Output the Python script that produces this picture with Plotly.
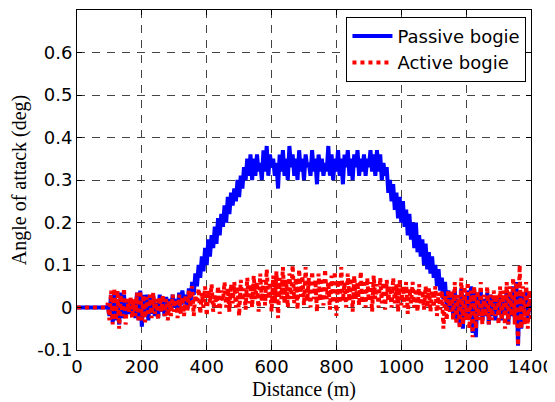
import plotly.graph_objects as go

STEP_M = 5
X_TICKS = [0, 200, 400, 600, 800, 1000, 1200, 1400]
Y_TICKS = [-0.1, 0.0, 0.1, 0.2, 0.3, 0.4, 0.5, 0.6]
Y_TICK_LABELS = ["-0.1", "0", "0.1", "0.2", "0.3", "0.4", "0.5", "0.6"]

passive_bogie = (
    [0.0] * 19
    + [0.005, -0.02, 0.03, -0.035, 0.035, -0.03, 0.02, -0.04, 0.035, -0.025,
       0.03, -0.02, 0.015, -0.015, 0.02, -0.02, 0.01, -0.025, 0.035, -0.03,
       0.04, -0.045, 0.03, -0.02, 0.03, -0.03, 0.025, -0.015, 0.03, -0.02,
       0.01, -0.025, 0.03, -0.01, 0.02, -0.02, 0.025, -0.01, 0.02, -0.005,
       0.03, 0.0, 0.02, -0.01, 0.035, 0.005, 0.04, 0.01]
    + [0.03, -0.005, 0.045, 0.01, 0.06, 0.03, 0.08, 0.05, 0.1, 0.07,
       0.12, 0.085, 0.14, 0.1, 0.16, 0.12, 0.17, 0.14, 0.19, 0.15,
       0.21, 0.17, 0.22, 0.19, 0.24, 0.2, 0.26, 0.22, 0.27, 0.24,
       0.28, 0.25, 0.3, 0.26, 0.31, 0.28, 0.33, 0.3, 0.35, 0.31,
       0.36, 0.3]
    + [0.35, 0.31, 0.36, 0.32, 0.34, 0.3, 0.37, 0.32, 0.38, 0.31,
       0.36, 0.33, 0.35, 0.31, 0.34, 0.28, 0.36, 0.32, 0.37, 0.31,
       0.35, 0.3, 0.38, 0.33, 0.36, 0.31, 0.35, 0.3, 0.37, 0.32,
       0.35, 0.3, 0.36, 0.33, 0.34, 0.31, 0.37, 0.32, 0.35, 0.29,
       0.36, 0.32, 0.35, 0.31, 0.34, 0.32, 0.38, 0.31, 0.36, 0.3,
       0.35, 0.32, 0.37, 0.31, 0.35, 0.29, 0.36, 0.33, 0.37, 0.31,
       0.35, 0.3, 0.36, 0.33, 0.37, 0.31, 0.35, 0.32, 0.36, 0.31,
       0.35, 0.33, 0.37, 0.32, 0.36, 0.31, 0.37, 0.32, 0.36, 0.3,
       0.34, 0.31]
    + [0.33, 0.27, 0.3, 0.25, 0.29, 0.23, 0.27, 0.21, 0.26, 0.2,
       0.25, 0.19, 0.23, 0.17, 0.22, 0.16, 0.2, 0.14, 0.2, 0.13,
       0.17, 0.12, 0.16, 0.1, 0.15, 0.09, 0.13, 0.08, 0.12, 0.07,
       0.1, 0.05, 0.09, 0.04, 0.07, 0.02, 0.06, 0.0, 0.04, -0.01]
    + [0.03, -0.02, 0.04, -0.03, 0.02, -0.04, 0.045, -0.05, 0.03, -0.02,
       0.04, -0.03, 0.05, -0.06, 0.04, -0.07, 0.03, -0.02, 0.04, -0.03,
       0.02, -0.02, 0.035, -0.04, 0.03, -0.02, 0.025, -0.03, 0.02, -0.01,
       0.03, -0.03, 0.02, -0.01, 0.04, -0.04, 0.03, -0.02, 0.05, -0.03,
       0.06, -0.09, 0.04, -0.05, 0.03, -0.02, 0.04, -0.03, 0.02, -0.01]
)

active_bogie = (
    [0.0] * 19
    + [0.01, -0.03, 0.04, -0.04, 0.045, -0.03, 0.04, -0.05, 0.03, -0.02,
       0.045, -0.04, 0.02, -0.01, 0.025, -0.025, 0.02, -0.02, 0.035, -0.035,
       0.04, -0.03, 0.03, -0.035, 0.025, -0.02, 0.03, -0.025, 0.035, -0.015,
       0.02, -0.03, 0.025, -0.01, 0.03, -0.02, 0.02, -0.03, 0.015, -0.02,
       0.03, -0.01, 0.02, -0.025, 0.03, -0.015, 0.025, -0.02]
    + [0.03, -0.01, 0.04, 0.0, 0.05, -0.02, 0.03, 0.01, 0.045, -0.015,
       0.035, 0.0, 0.05, -0.02, 0.04, 0.01, 0.055, -0.01, 0.03, 0.0,
       0.05, -0.015, 0.04, 0.015, 0.06, 0.0, 0.045, -0.01, 0.055, 0.01,
       0.06, 0.0, 0.05, -0.02, 0.065, 0.015, 0.045, -0.005, 0.07, 0.01,
       0.055, 0.0, 0.075, 0.02, 0.06, -0.01, 0.08, 0.015, 0.065, 0.005,
       0.09, 0.02, 0.06, -0.01, 0.075, 0.01, 0.085, -0.025, 0.07, 0.02,
       0.095, 0.01, 0.065, 0.0, 0.08, 0.02, 0.1, 0.01, 0.07, -0.005,
       0.09, 0.025, 0.075, 0.005, 0.095, 0.015, 0.07, 0.0, 0.085, 0.02,
       0.065, -0.01, 0.08, 0.015, 0.07, 0.005, 0.09, 0.02, 0.06, -0.005,
       0.075, 0.01, 0.085, -0.02, 0.065, 0.01, 0.095, 0.015, 0.06, 0.0,
       0.08, 0.015, 0.07, -0.01, 0.075, 0.02, 0.06, 0.005, 0.085, 0.01,
       0.065, 0.0, 0.07, 0.015, 0.06, -0.01, 0.075, 0.02, 0.055, 0.0,
       0.07, 0.01, 0.06, -0.005, 0.065, 0.015, 0.05, 0.0, 0.07, 0.01,
       0.055, -0.01, 0.065, 0.005, 0.05, 0.0, 0.06, -0.015, 0.045, 0.01,
       0.06, 0.0, 0.045, -0.01, 0.055, 0.005, 0.04, -0.005, 0.05, 0.0,
       0.045, -0.01, 0.04, 0.0, 0.05, -0.02, 0.035, -0.005, 0.04, -0.05,
       0.03, -0.03, 0.04, -0.01]
    + [0.04, -0.03, 0.06, -0.04, 0.03, -0.05, 0.07, -0.04, 0.05, -0.03,
       0.06, -0.05, 0.04, -0.07, 0.05, -0.05, 0.04, -0.03, 0.06, -0.04,
       0.03, -0.02, 0.05, -0.04, 0.03, -0.03, 0.04, -0.02, 0.03, -0.04,
       0.05, -0.03, 0.04, -0.05, 0.06, -0.04, 0.05, -0.02, 0.07, -0.04,
       0.06, -0.09, 0.1, -0.05, 0.05, -0.04, 0.06, -0.05, 0.04, -0.03]
)

distance = [i * STEP_M for i in range(len(passive_bogie))]
assert len(passive_bogie) == len(active_bogie) == 281, (len(passive_bogie), len(active_bogie))

fig = go.Figure()
fig.add_trace(go.Scatter(
    x=distance, y=passive_bogie, mode="lines", name="Passive bogie",
    line=dict(color="#0000ff", width=4),
))
fig.add_trace(go.Scatter(
    x=distance, y=active_bogie, mode="lines", name="Active bogie",
    line=dict(color="#ff0000", width=4, dash="dot"),
))

axis_common = dict(
    showline=True, linecolor="black", linewidth=1, mirror="ticks",
    ticks="inside", ticklen=5, tickcolor="black",
    showgrid=True, gridcolor="#444444", gridwidth=1, griddash="8px,7px",
    zeroline=False, automargin=False,
    tickfont=dict(family="DejaVu Sans", size=18, color="black"),
    title_font=dict(family="Liberation Serif, Times New Roman", size=20, color="black"),
)

fig.update_xaxes(
    range=[0, 1400], tickvals=X_TICKS, title_text="Distance (m)",
    title_standoff=6, **axis_common,
)
fig.update_yaxes(
    range=[-0.1, 0.7], tickvals=Y_TICKS, ticktext=Y_TICK_LABELS,
    title_text="Angle of attack (deg)", title_standoff=6, **axis_common,
)

# the page body keeps the browser's default 8px margin, so the figure is
# sized and offset to land the plot area where the reference has it
fig.update_layout(
    width=547, height=394,
    margin=dict(l=69, r=24, t=2, b=52),
    paper_bgcolor="white", plot_bgcolor="white",
    showlegend=True,
    legend=dict(
        x=0.99, xanchor="right", y=0.98, yanchor="top",
        bgcolor="white", bordercolor="black", borderwidth=1,
        font=dict(family="DejaVu Sans", size=18, color="black"),
        tracegroupgap=0, itemwidth=40,
    ),
)

fig.write_html("out.html")
